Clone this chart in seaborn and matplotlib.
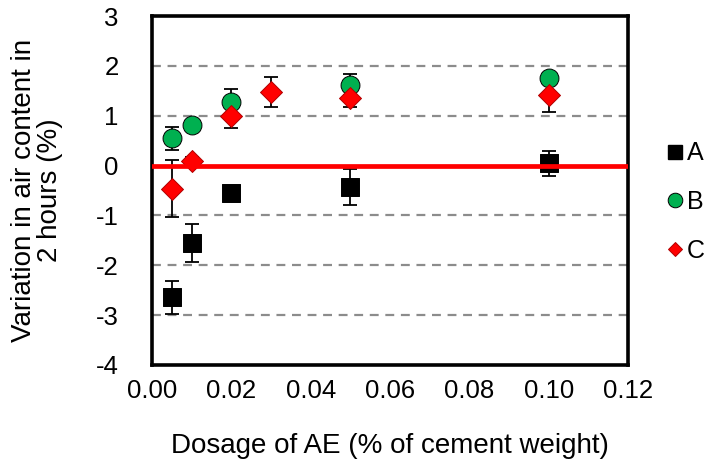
import matplotlib
matplotlib.use("Agg")
import matplotlib.pyplot as plt
import seaborn as sns
import pandas as pd
import numpy as np
from matplotlib.lines import Line2D

# ---- data ----
dose_A = [0.005, 0.01, 0.02, 0.05, 0.10]
val_A = [-2.64, -1.55, -0.55, -0.43, 0.05]
err_A = [0.33, 0.38, 0.08, 0.37, 0.25]

dose_B = [0.005, 0.01, 0.02, 0.05, 0.10]
val_B = [0.55, 0.82, 1.28, 1.62, 1.76]
err_B = [0.23, 0.08, 0.25, 0.21, 0.10]

dose_C = [0.005, 0.01, 0.02, 0.03, 0.05, 0.10]
val_C = [-0.46, 0.09, 1.00, 1.47, 1.36, 1.41]
err_C = [0.58, 0.08, 0.25, 0.30, 0.18, 0.33]

series = ["A", "B", "C"]
y_ticks = [3, 2, 1, 0, -1, -2, -3, -4]
x_ticks = [0.00, 0.02, 0.04, 0.06, 0.08, 0.10, 0.12]

df = pd.DataFrame({
    "dose": dose_A + dose_B + dose_C,
    "val": val_A + val_B + val_C,
    "err": err_A + err_B + err_C,
    "series": ["A"] * len(dose_A) + ["B"] * len(dose_B) + ["C"] * len(dose_C),
})

sns.set_style("white")
plt.rcParams["font.family"] = ["Liberation Sans", "DejaVu Sans"]
plt.rcParams["text.color"] = "black"
plt.rcParams["axes.labelcolor"] = "black"
plt.rcParams["xtick.color"] = "black"
plt.rcParams["ytick.color"] = "black"

fig = plt.figure(figsize=(7.15, 4.63), dpi=100)
ax = fig.add_axes([152 / 715, 1 - 365 / 463, 476 / 715, 349 / 463])

ax.set_xlim(0, 0.12)
ax.set_ylim(-4, 3)

# grid
for yv in y_ticks:
    if yv not in (0, 3, -4):
        ax.axhline(yv, color="#8c8c8c", lw=1.6, ls=(0, (4, 3)), zorder=1)

# error bars
ax.errorbar(df["dose"], df["val"], yerr=df["err"], fmt="none", ecolor="black",
            elinewidth=1.3, capsize=5, capthick=1.3, zorder=2)

palette = {"A": "#000000", "B": "#00B050", "C": "#FF0000"}
markers = {"A": "s", "B": "o", "C": "D"}
sizes = {"A": 175, "B": 185, "C": 125}

for s in series:
    sub = df[df["series"] == s]
    sns.scatterplot(data=sub, x="dose", y="val", ax=ax, color=palette[s],
                    marker=markers[s], s=sizes[s],
                    edgecolor="#000000" if s != "C" else "#b00000",
                    linewidth=0.7, zorder=3, label=s, legend=False)

ax.axhline(0, color="#FF0000", lw=3.4, zorder=4)

for sp in ax.spines.values():
    sp.set_linewidth(2.6)
    sp.set_color("black")

ax.set_xticks(x_ticks)
ax.set_xticklabels([f"{v:.2f}" for v in x_ticks])
ax.set_yticks(y_ticks)
ax.set_yticklabels([str(v) for v in y_ticks])
ax.tick_params(axis="x", direction="in", length=5, width=1.5, labelsize=18.5, pad=10, color="black")
ax.tick_params(axis="y", length=0, labelsize=18.5, pad=24)

ax.set_xlabel("Dosage of AE (% of cement weight)", fontsize=20, labelpad=22)
ax.set_ylabel("Variation in air content in\n2 hours (%)", fontsize=20, linespacing=1.0)
ax.yaxis.set_label_coords(-0.187, 0.5)

handles = [
    Line2D([], [], ls="none", marker="s", ms=10, mfc="#000000", mec="#000000"),
    Line2D([], [], ls="none", marker="o", ms=10.5, mfc="#00B050", mec="#000000", mew=0.7),
    Line2D([], [], ls="none", marker="D", ms=7.5, mfc="#FF0000", mec="#b00000", mew=0.7),
]
fig.legend(handles, series, loc="center left", bbox_to_anchor=(666 / 715, 1 - 202 / 463),
           frameon=False, fontsize=18, handlelength=0.7, handletextpad=0.15,
           labelspacing=0.98, borderpad=0, borderaxespad=0)

fig.savefig("out.png", dpi=100)
